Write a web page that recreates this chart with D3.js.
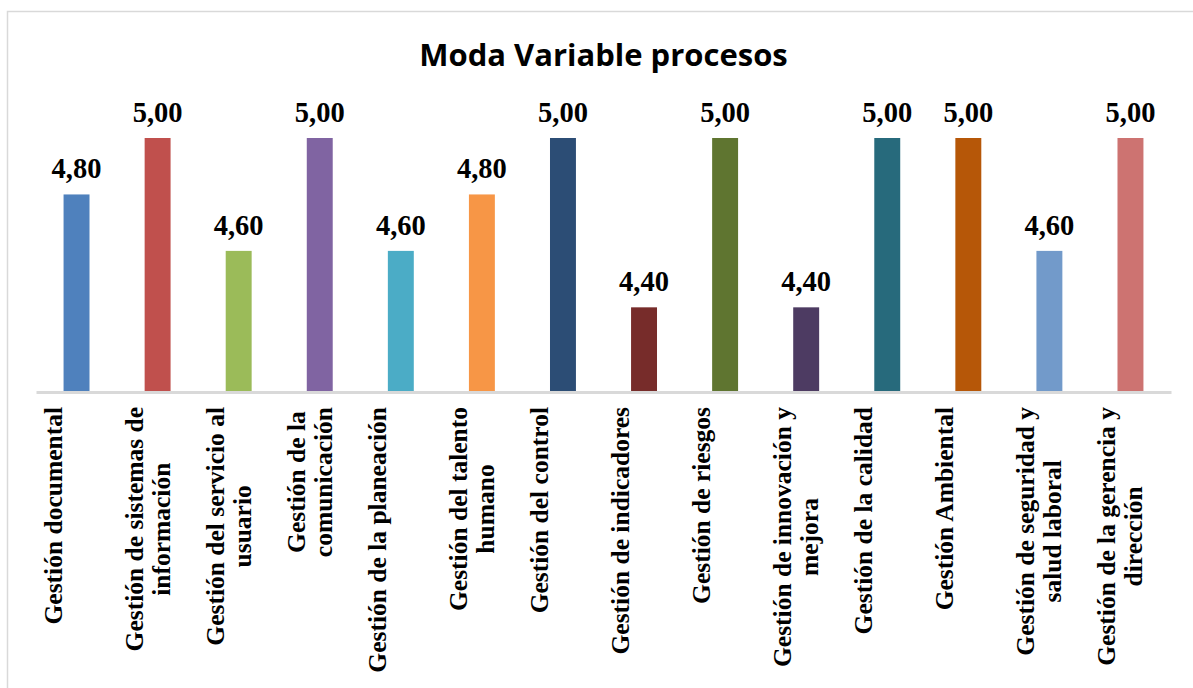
<!DOCTYPE html>
<html>
<head>
<meta charset="utf-8">
<script src="https://cdn.jsdelivr.net/npm/d3@7"></script>
<style>
  body { margin: 0; background: #fff; }
  svg { display: block; }
</style>
</head>
<body>
<svg id="chart" width="1193" height="688"></svg>
<script>
// categorias (cada una puede tener varias lineas)
var categorias = [
  ["Gestión documental"],
  ["Gestión de sistemas de", "información"],
  ["Gestión del servicio al", "usuario"],
  ["Gestión de la", "comunicación"],
  ["Gestión de la planeación"],
  ["Gestión del talento", "humano"],
  ["Gestión del control"],
  ["Gestión de indicadores"],
  ["Gestión de riesgos"],
  ["Gestión de innovación y", "mejora"],
  ["Gestión de la calidad"],
  ["Gestión Ambiental"],
  ["Gestión de seguridad y", "salud laboral"],
  ["Gestión de la gerencia y", "dirección"]
];
var valores = [4.8, 5.0, 4.6, 5.0, 4.6, 4.8, 5.0, 4.4, 5.0, 4.4, 5.0, 5.0, 4.6, 5.0];
var colores = ["#4F81BD", "#C0504D", "#9BBB59", "#8064A2", "#4BACC6", "#F79646", "#2C4D75",
               "#772C2A", "#5F7530", "#4D3B62", "#276A7C", "#B65708", "#729ACA", "#CD7371"];
var titulo = "Moda Variable procesos";
var ejeMin = 4.1, ejeMax = 5.0;

var svg = d3.select("#chart");

//marco del grafico
svg.append("rect")
  .attr("x", 7.5).attr("y", 11.5)
  .attr("width", 1200).attr("height", 700)
  .attr("fill", "none")
  .attr("stroke", "#d9d9d9")
  .attr("stroke-width", 1.5);

var plotLeft = 36, plotRight = 1171, plotTop = 138, plotBottom = 392;

var x = d3.scaleBand()
  .domain(d3.range(categorias.length))
  .range([plotLeft, plotRight])
  .paddingInner(0.68)
  .paddingOuter(0.34);

var y = d3.scaleLinear()
  .domain([ejeMin, ejeMax])
  .range([plotBottom, plotTop]);

//titulo
svg.append("text")
  .attr("x", (plotLeft + plotRight) / 2)
  .attr("y", 66)
  .attr("text-anchor", "middle")
  .attr("font-family", "'Open Sans', sans-serif")
  .attr("font-weight", "bold")
  .attr("font-size", 31)
  .attr("fill", "#000")
  .text(titulo);

//barras
svg.selectAll(".bar")
  .data(valores)
  .enter()
  .append("rect")
  .attr("class", "bar")
  .attr("x", function(d, i){ return x(i); })
  .attr("y", function(d){ return y(d); })
  .attr("width", x.bandwidth())
  .attr("height", function(d){ return y(ejeMin) - y(d); })
  .attr("fill", function(d, i){ return colores[i]; });

//etiquetas de valor
svg.selectAll(".valor")
  .data(valores)
  .enter()
  .append("text")
  .attr("class", "valor")
  .attr("x", function(d, i){ return x(i) + x.bandwidth() / 2; })
  .attr("y", function(d){ return y(d) - 16; })
  .attr("text-anchor", "middle")
  .attr("font-family", "'Liberation Serif', serif")
  .attr("font-weight", "bold")
  .attr("font-size", 28.5)
  .attr("fill", "#000")
  .text(function(d){ return d.toFixed(2).replace(".", ","); });

//eje x
var axisG = svg.append("g")
  .attr("transform", "translate(0," + plotBottom + ")")
  .call(d3.axisBottom(x).tickSize(0).tickFormat(""));
axisG.select(".domain").attr("stroke", "#d9d9d9").attr("stroke-width", 3);

//etiquetas del eje, rotadas
var lineH = 27;
var etiquetas = svg.selectAll(".cat")
  .data(categorias)
  .enter()
  .append("g")
  .attr("class", "cat");

etiquetas.each(function(lines, i){
  var g = d3.select(this);
  var t = g.append("text")
    .attr("font-family", "'Liberation Serif', serif")
    .attr("font-weight", "bold")
    .attr("font-size", 25.5)
    .attr("fill", "#000")
    .attr("text-anchor", "middle");
  lines.forEach(function(l, k){
    t.append("tspan")
      .attr("x", 0)
      .attr("y", k * lineH)
      .text(l);
  });
  var maxW = 0;
  t.selectAll("tspan").each(function(){
    maxW = Math.max(maxW, this.getComputedTextLength());
  });
  var cx = x(i) + x.bandwidth() / 2 - 15;
  g.attr("transform", "translate(" + cx + "," + (407 + maxW / 2) + ") rotate(-90)");
});
</script>
</body>
</html>
